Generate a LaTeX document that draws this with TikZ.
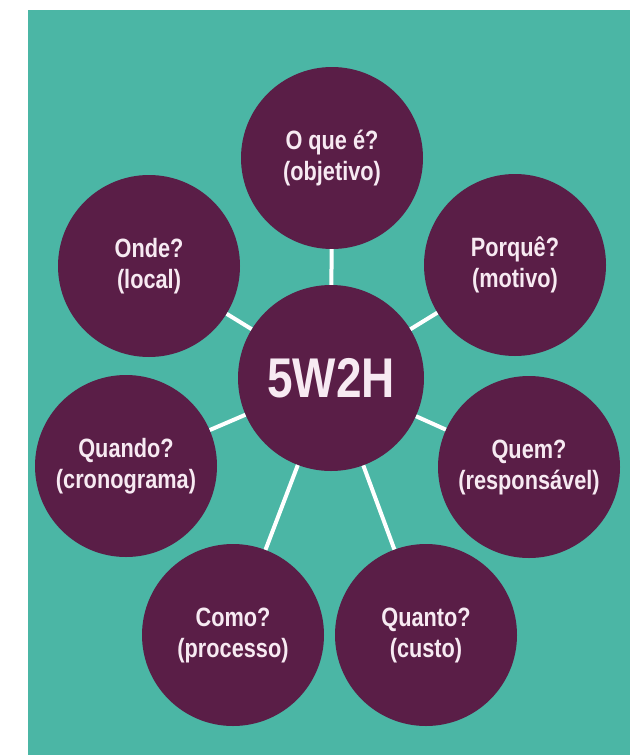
\documentclass[tikz,border=0pt]{standalone}
\usepackage{fontspec}
\setmainfont{Liberation Sans}[FakeStretch=0.82]

\definecolor{bgteal}{HTML}{4BB6A5}
\definecolor{wplum}{HTML}{5A1E47}
\definecolor{ptext}{HTML}{F7EAF2}

\begin{document}
\begin{tikzpicture}[x=1pt, y=-1pt]
    \tikzstyle{bubble} = [circle, fill=wplum, text=ptext, minimum size=182pt, inner sep=0pt, align=center, font=\bfseries\fontsize{26.5}{31}\selectfont]
    \tikzstyle{spoke} = [white, line width=4pt]

    \useasboundingbox (0,0) rectangle (642,755);
    \fill[bgteal] (28,10) rectangle (630,755);

    \begin{scope}
        \path[-]
          node[bubble, minimum size=186pt, font=\bfseries\fontsize{56}{60}\selectfont] (hub) at (331,378) {5W2H}
          node[bubble] (oque) at (332,158) {O que é?\\(objetivo)}
          node[bubble] (porque) at (515,265) {Porquê?\\(motivo)}
          node[bubble] (quem) at (529,467) {Quem?\\(responsável)}
          node[bubble] (quanto) at (426,635) {Quanto?\\(custo)}
          node[bubble] (como) at (233,635) {Como?\\(processo)}
          node[bubble] (quando) at (126,466) {Quando?\\(cronograma)}
          node[bubble] (onde) at (149,266) {Onde?\\(local)}

          (hub) edge[spoke] (oque)
          (hub) edge[spoke] (porque)
          (hub) edge[spoke] (quem)
          (hub) edge[spoke] (quanto)
          (hub) edge[spoke] (como)
          (hub) edge[spoke] (quando)
          (hub) edge[spoke] (onde);
    \end{scope}
\end{tikzpicture}
\end{document}
